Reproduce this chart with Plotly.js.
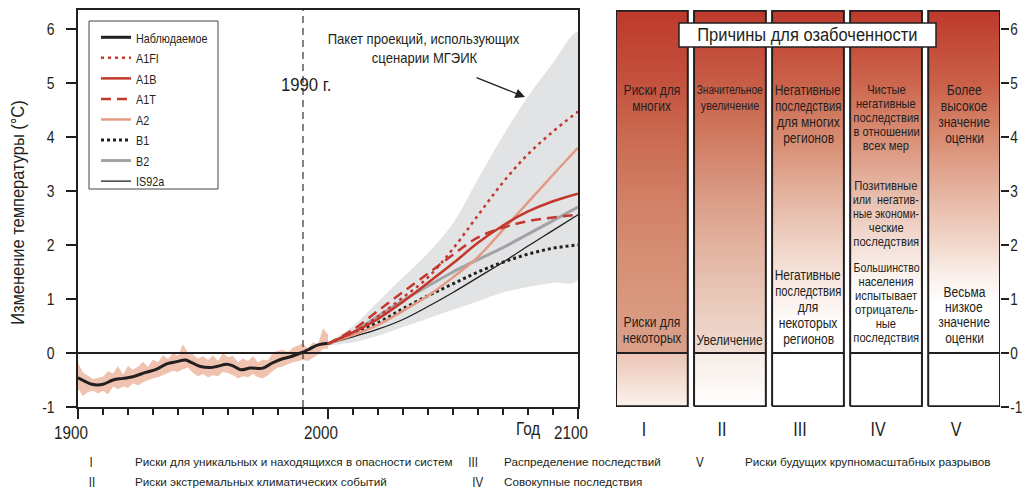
<!DOCTYPE html>
<html><head><meta charset="utf-8">
<script src="https://cdn.plot.ly/plotly-3.0.1.min.js"></script>
<style>html,body{margin:0;padding:0;background:#fff;}#chart{width:1024px;height:491px;}</style>
</head><body><div id="chart"></div>
<script>
// ---------- DATA ----------
const obsYears = [1900,1903,1905.5,1910,1914,1918,1922,1927,1931.5,1935.5,1939.5,1943,1945.5,1949,1953,1955.5,1959.5,1962,1965,1969,1974,1977.5,1981,1985,1989,1992,1996,2000];
const obsValues = [-0.46,-0.53,-0.58,-0.58,-0.50,-0.47,-0.44,-0.36,-0.30,-0.20,-0.16,-0.13,-0.18,-0.25,-0.27,-0.25,-0.21,-0.24,-0.31,-0.28,-0.28,-0.19,-0.12,-0.07,0.00,0.06,0.15,0.18];

const bandYears = [1900,1902,1904,1906,1908,1910,1912,1914,1916,1918,1920,1922,1924,1926,1928,1930,1932,1934,1936,1938,1940,1942,1944,1946,1948,1950,1952,1954,1956,1958,1960,1962,1964,1966,1968,1970,1972,1974,1976,1978,1980,1982,1984,1986,1988,1990,1992,1994,1996,1998,2000];
const bandUpper = [-0.18,-0.36,-0.42,-0.48,-0.46,-0.44,-0.34,-0.38,-0.24,-0.40,-0.24,-0.31,-0.25,-0.16,-0.26,-0.12,-0.17,-0.04,-0.11,0.00,-0.05,0.16,0.00,-0.03,-0.10,-0.06,-0.13,-0.04,-0.15,0.00,-0.08,-0.05,-0.17,-0.10,-0.15,-0.06,-0.17,-0.12,-0.14,0.01,0.04,0.06,0.02,0.10,0.14,0.18,0.08,0.20,0.16,0.46,0.34];
const bandLower = [-0.66,-0.80,-0.72,-0.70,-0.75,-0.70,-0.77,-0.62,-0.67,-0.62,-0.65,-0.56,-0.60,-0.54,-0.50,-0.47,-0.45,-0.41,-0.37,-0.33,-0.35,-0.30,-0.27,-0.37,-0.43,-0.39,-0.45,-0.41,-0.43,-0.35,-0.37,-0.41,-0.47,-0.43,-0.45,-0.39,-0.45,-0.47,-0.41,-0.33,-0.27,-0.25,-0.21,-0.17,-0.15,-0.13,-0.15,-0.09,-0.03,0.08,0.08];

const projYears = [2000,2010,2020,2030,2040,2050,2060,2070,2080,2090,2100];
const sA1FI  = [0.17,0.38,0.68,1.03,1.40,1.93,2.55,3.16,3.68,4.10,4.47];
const sA1B   = [0.17,0.38,0.63,0.95,1.30,1.66,2.04,2.36,2.62,2.81,2.95];
const sA1T   = [0.17,0.43,0.78,1.13,1.47,1.82,2.14,2.32,2.44,2.51,2.56];
const sA2    = [0.17,0.33,0.52,0.78,1.06,1.40,1.78,2.28,2.79,3.30,3.80];
const sB1    = [0.17,0.37,0.56,0.82,1.06,1.28,1.50,1.68,1.83,1.94,2.00];
const sB2    = [0.17,0.38,0.68,0.97,1.24,1.50,1.73,1.95,2.20,2.45,2.70];
const sIS92a = [0.17,0.30,0.44,0.62,0.86,1.12,1.40,1.68,1.98,2.27,2.56];
const envUpper = [0.20,0.50,0.95,1.40,1.85,2.40,3.22,4.02,4.75,5.37,5.94];
const envLower = [0.14,0.20,0.32,0.48,0.64,0.80,0.96,1.12,1.22,1.30,1.35];

const yTickVals = [-1,0,1,2,3,4,5,6];
const yTickText = ['-1','0','1','2','3','4','5','6'];
const xTickVals = [1900,2000,2100];
const xTickText = ['1900','2000','2100'];

const concernCols = ['I','II','III','IV','V'];
const concernTexts = [
  {col:1, lines:['Риски для','многих']},
  {col:1, lines:['Риски для','некоторых']},
  {col:2, lines:['Значительное','увеличение']},
  {col:2, lines:['Увеличение']},
  {col:3, lines:['Негативные','последствия','для многих','регионов']},
  {col:3, lines:['Негативные','последствия','для','некоторых','регионов']},
  {col:4, lines:['Чистые','негативные','последствия','в отношении','всех мер']},
  {col:4, lines:['Позитивные','или  негатив-','ные экономи-','ческие','последствия']},
  {col:4, lines:['Большинство','населения','испытывает','отрицатель-','ные','последствия']},
  {col:5, lines:['Более','высокое','значение','оценки']},
  {col:5, lines:['Весьма','низкое','значение','оценки']}
];
const footItems = [
  {num:'I',   text:'Риски для уникальных и находящихся в опасности систем'},
  {num:'II',  text:'Риски экстремальных климатических событий'},
  {num:'III', text:'Распределение последствий'},
  {num:'IV',  text:'Совокупные последствия'},
  {num:'V',   text:'Риски будущих крупномасштабных разрывов'}
];

// ---------- LAYOUT HELPERS ----------
const FONT = '"Liberation Sans Narrow", "Liberation Sans", Arial, sans-serif';
const INK = '#231f20';
const RED = '#c4372c';
const Y_MIN = -1, Y_MAX = 6.35;
const ML = 78, MR = 24, MT = 10, MB = 84, W = 1024, H = 491;
const PW = W - ML - MR, PH = H - MT - MB;
const px2x = p => (p - ML) / PW;
const px2y = p => 1 - (p - MT) / PH;

// text block placement: [pixel row of first line, line step, font size]
const textPlace = [
  [90,16.5,14],[322,16,14],[90,16.5,12.5],[340,16,14],[90,16,14],[275,16,14],
  [89,14,13],[185,14,13],[267,14,13],[90,16,14],[292,15.2,14]
];
const footPlace = [
  {nx:91, tx:133, y:462},{nx:92, tx:133, y:482},{nx:473, tx:502, y:462},{nx:478, tx:502, y:482},{nx:700, tx:743, y:462}
];

const colScales = [
  [[0,'#fcf3ee'],[0.135,'#ebc5b4'],[0.137,'#daa089'],[0.272,'#d8977d'],[0.408,'#d58c72'],[0.544,'#d07d63'],[0.68,'#ca6a51'],[0.816,'#c4523e'],[1,'#bd392b']],
  [[0,'#ffffff'],[0.135,'#f8ede7'],[0.137,'#f0dcd2'],[0.272,'#e9c8b9'],[0.408,'#e2b29f'],[0.544,'#d99882'],[0.68,'#d07a61'],[0.816,'#c75d47'],[1,'#bd392b']],
  [[0,'#ffffff'],[0.2,'#ffffff'],[0.272,'#fbf1ec'],[0.408,'#efd3c6'],[0.544,'#e3b09c'],[0.68,'#d78a70'],[0.816,'#ca624a'],[1,'#bd392b']],
  [[0,'#ffffff'],[0.28,'#ffffff'],[0.34,'#fbf1ec'],[0.408,'#f4dfd6'],[0.544,'#e7b9a7'],[0.68,'#d98f76'],[0.816,'#cc664d'],[1,'#bd392b']],
  [[0,'#ffffff'],[0.26,'#ffffff'],[0.34,'#f9ede7'],[0.408,'#f2d8cc'],[0.544,'#e5b3a0'],[0.68,'#d88b71'],[0.816,'#ca6047'],[1,'#bd392b']]
];

// ---------- TRACES ----------
const traces = [];
traces.push({type:'scatter', x: projYears.concat(projYears.slice().reverse()),
  y: envUpper.concat(envLower.slice().reverse()), fill:'toself', fillcolor:'#e2e3e5',
  line:{width:0, shape:'spline'}, mode:'lines', showlegend:false, hoverinfo:'skip'});
traces.push({type:'scatter', x: bandYears.concat(bandYears.slice().reverse()),
  y: bandUpper.concat(bandLower.slice().reverse()), fill:'toself', fillcolor:'#efc3b0',
  line:{width:0}, mode:'lines', showlegend:false, hoverinfo:'skip'});

const series = [
  {name:'IS92a', y:sIS92a, line:{color:INK, width:1.3}, rank:8},
  {name:'B1', y:sB1, line:{color:INK, width:3, dash:'3px,3px'}, rank:6},
  {name:'B2', y:sB2, line:{color:'#a3a3a5', width:3}, rank:7},
  {name:'A2', y:sA2, line:{color:'#e39a82', width:2.5}, rank:5},
  {name:'A1B', y:sA1B, line:{color:RED, width:2.5}, rank:3},
  {name:'A1T', y:sA1T, line:{color:RED, width:2.5, dash:'10px,6px'}, rank:4},
  {name:'A1FI', y:sA1FI, line:{color:RED, width:2.5, dash:'3px,4px'}, rank:2}
];
traces.push({type:'scatter', mode:'lines', name:'Наблюдаемое', x:obsYears, y:obsValues,
  line:{color:INK, width:3, shape:'spline'}, legendrank:1});
series.forEach(s => traces.push({type:'scatter', mode:'lines', name:s.name, x:projYears, y:s.y,
  line:Object.assign({shape:'spline'}, s.line), legendrank:s.rank}));

const hw = 0.46;
concernCols.forEach((nm, i) => {
  const c = i + 1;
  traces.push({type:'scatter', xaxis:'x2', yaxis:'y2', mode:'lines', fill:'toself',
    x:[c-hw, c+hw, c+hw, c-hw, c-hw], y:[Y_MIN+0.015, Y_MIN+0.015, Y_MAX-0.015, Y_MAX-0.015, Y_MIN+0.015],
    fillgradient:{type:'vertical', colorscale:colScales[i], start:Y_MIN, stop:Y_MAX},
    line:{color:INK, width:2}, showlegend:false, hoverinfo:'skip'});
});

// ---------- SHAPES & ANNOTATIONS ----------
const shapes = [
  {type:'line', xref:'x', yref:'paper', x0:1990, x1:1990, y0:0, y1:1, line:{color:'#333', width:1.2, dash:'7px,5px'}},
  {type:'line', xref:'x', yref:'y', x0:1900, x1:2100, y0:0, y1:0, line:{color:INK, width:2}, layer:'above'},
  {type:'rect', xref:'paper', yref:'paper', x0:px2x(89), x1:px2x(218), y0:px2y(189), y1:px2y(21),
    fillcolor:'#ffffff', line:{color:'#444', width:1}, layer:'below'}
];
concernCols.forEach((nm, i) => {
  shapes.push({type:'line', xref:'x2', yref:'y2', x0:i+1-hw, x1:i+1+hw, y0:0, y1:0, line:{color:INK, width:2}});
});
shapes.push({type:'rect', xref:'paper', yref:'paper', x0:px2x(679), x1:px2x(936), y0:px2y(47), y1:px2y(23),
  fillcolor:'#ffffff', line:{color:INK, width:1.5}, layer:'above'});

const annotations = [];
const squeezeOf = [];
function addAnn(a, f, maxW) { annotations.push(a); squeezeOf.push({f:f, maxW:maxW || 0, left: a.xanchor === 'left'}); }

addAnn({xref:'paper', yref:'paper', x:px2x(807.5), y:px2y(35), text:'Причины для озабоченности',
  showarrow:false, font:{family:FONT, size:18, color:INK}, xanchor:'center', yanchor:'middle'}, 0.915);
addAnn({xref:'paper', yref:'paper', x:px2x(18), y:px2y(213), text:'Изменение температуры (°C)',
  textangle:-90, showarrow:false, font:{family:FONT, size:17.5, color:INK}, xanchor:'center', yanchor:'middle'}, 0.94);
addAnn({xref:'paper', yref:'paper', x:px2x(306), y:px2y(85), text:'1990 г.',
  showarrow:false, font:{family:FONT, size:18, color:INK}, xanchor:'center', yanchor:'middle'}, 0.93);
addAnn({xref:'paper', yref:'paper', x:px2x(528), y:px2y(428), text:'Год',
  showarrow:false, font:{family:FONT, size:19, color:INK}, xanchor:'center', yanchor:'middle'}, 0.8);
addAnn({xref:'paper', yref:'paper', x:px2x(424), y:px2y(39), text:'Пакет проекций, использующих',
  showarrow:false, font:{family:FONT, size:14.5, color:INK}, xanchor:'center', yanchor:'middle'}, 0.9);
addAnn({xref:'paper', yref:'paper', x:px2x(425), y:px2y(58), text:'сценарии МГЭИК',
  showarrow:false, font:{family:FONT, size:14.5, color:INK}, xanchor:'center', yanchor:'middle'}, 0.9);
addAnn({xref:'paper', yref:'paper', axref:'pixel', ayref:'pixel', x:px2x(525), y:px2y(97), ax:-50, ay:-20, text:'',
  showarrow:true, arrowhead:2, arrowsize:1.6, arrowwidth:1.2, arrowcolor:INK}, 0);

concernTexts.forEach((b, k) => {
  const [y0, step, fs] = textPlace[k];
  b.lines.forEach((ln, j) => {
    addAnn({xref:'x2', yref:'paper', x:b.col, y:px2y(y0 + j*step), text:ln, showarrow:false,
      font:{family:FONT, size:fs, color:INK}, xanchor:'center', yanchor:'middle'}, 0.86, 66);
  });
});
footItems.forEach((f, k) => {
  const p = footPlace[k];
  addAnn({xref:'paper', yref:'paper', x:px2x(p.nx), y:px2y(p.y), text:f.num, showarrow:false,
    font:{family:FONT, size:14.5, color:INK}, xanchor:'center', yanchor:'middle'}, 0.8);
  addAnn({xref:'paper', yref:'paper', x:px2x(p.tx), y:px2y(p.y), text:f.text, showarrow:false,
    font:{family:FONT, size:11.7, color:INK}, xanchor:'left', yanchor:'middle'}, 0);
});

const layout = {
  width:W, height:H, margin:{l:ML, r:MR, t:MT, b:MB, pad:0},
  paper_bgcolor:'#ffffff', plot_bgcolor:'rgba(0,0,0,0)',
  font:{family:FONT, color:INK},
  showlegend:true,
  legend:{x:px2x(96), y:px2y(22), xanchor:'left', yanchor:'top', bgcolor:'rgba(0,0,0,0)',
    borderwidth:0, font:{family:FONT, size:13.5, color:INK}, traceorder:'normal'},
  xaxis:{domain:[0, 500/PW], range:[1900,2100], showgrid:false, zeroline:false,
    showline:true, mirror:true, linecolor:INK, linewidth:2,
    tickvals:xTickVals, ticktext:xTickText, ticks:'outside', ticklen:10, tickwidth:1.5, tickcolor:INK,
    minor:{dtick:10, tick0:1900, ticks:'outside', ticklen:6, tickwidth:1.5, tickcolor:INK, showgrid:false},
    tickfont:{family:FONT, size:19, color:INK}, ticklabelshift:-7, ticklabelstandoff:-3},
  yaxis:{range:[Y_MIN, Y_MAX], showgrid:false, zeroline:false, showline:true, mirror:true,
    linecolor:INK, linewidth:2, tickvals:yTickVals, ticktext:yTickText, ticks:'outside', ticklen:10,
    tickwidth:1.5, tickcolor:INK, tickfont:{family:FONT, size:17, color:INK}, ticklabelstandoff:8},
  xaxis2:{domain:[px2x(616), 1], anchor:'y2', range:[1-hw, 5+hw], showgrid:false, zeroline:false,
    showline:false, tickvals:[1,2,3,4,5], ticktext:concernCols, ticks:'', ticklabelshift:-8, ticklabelstandoff:8,
    tickfont:{family:FONT, size:20, color:INK}},
  yaxis2:{anchor:'x2', side:'right', range:[Y_MIN, Y_MAX], showgrid:false, zeroline:false, showline:false,
    tickvals:yTickVals, ticktext:yTickText, ticks:'outside', ticklen:8, tickwidth:1.5, tickcolor:INK,
    tickfont:{family:FONT, size:16, color:INK}, ticklabelstandoff:-2},
  shapes:shapes, annotations:annotations
};

// Horizontal condensing of glyphs to imitate the condensed typeface of the original
function squeeze(el, f, maxW) {
  if (!el || !f) return 0;
  let w = 0;
  try { w = el.getComputedTextLength(); } catch (e) { w = 0; }
  if (!w) return 0;
  let t = w * f;
  if (maxW && t > maxW) t = maxW;
  el.setAttribute('textLength', t.toFixed(2));
  el.setAttribute('lengthAdjust', 'spacingAndGlyphs');
  return w - t;
}

Plotly.newPlot('chart', traces, layout, {displayModeBar:false, staticPlot:true}).then(gd => {
  gd.querySelectorAll('.xtick text').forEach(el => squeeze(el, 0.8));
  gd.querySelectorAll('.ytick text').forEach(el => squeeze(el, 0.82));
  gd.querySelectorAll('.x2tick text').forEach(el => squeeze(el, 0.8));
  gd.querySelectorAll('.y2tick text').forEach(el => squeeze(el, 0.85));
  gd.querySelectorAll('.legendtext').forEach(el => squeeze(el, 0.8));
  gd.querySelectorAll('g.annotation').forEach(g => {
    const idx = +g.getAttribute('data-index');
    const s = squeezeOf[idx];
    if (!s) return;
    const el = g.querySelector('text.annotation-text');
    const d = squeeze(el, s.f, s.maxW);
    if (s.left && d && el) {
      const x0 = parseFloat(el.getAttribute('x') || '0');
      el.setAttribute('x', (x0 - d / 2).toFixed(2));
    }
  });
});
</script></body></html>
